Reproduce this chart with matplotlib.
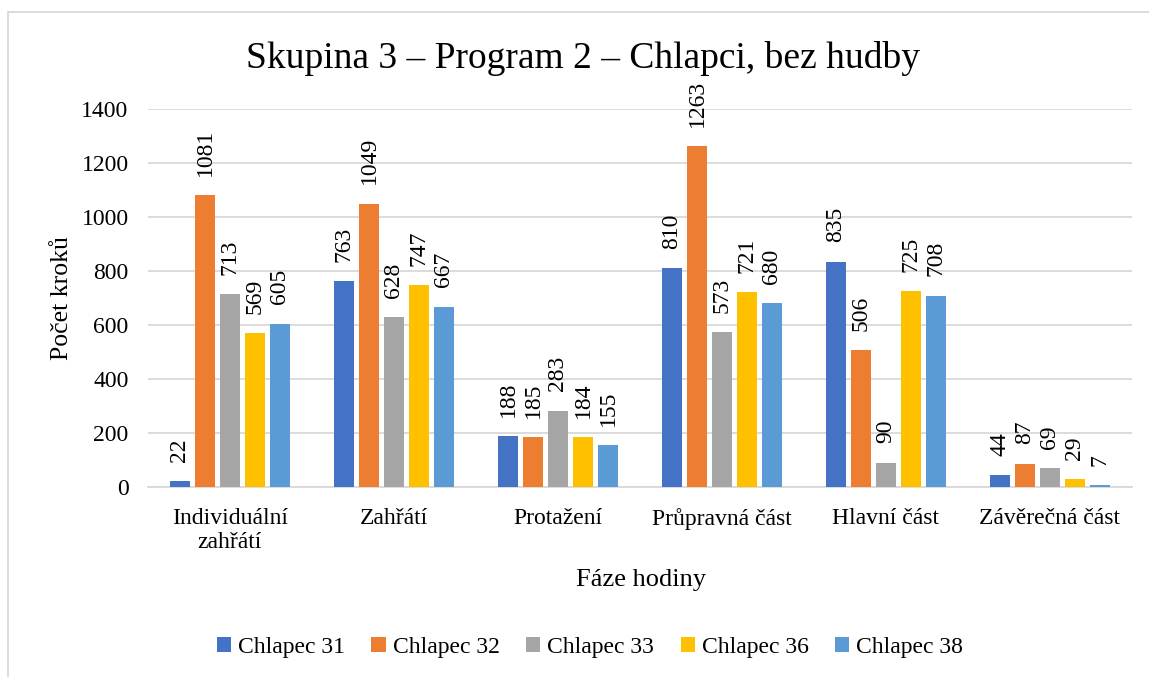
import numpy as np
import matplotlib.pyplot as plt
from matplotlib.patches import Rectangle

plt.rcParams['font.family'] = ['Liberation Serif', 'DejaVu Serif']

# data
categories = ["Individuální\nzahřátí", "Zahřátí", "Protažení",
              "Průpravná část", "Hlavní část", "Závěrečná část"]
series_names = ["Chlapec 31", "Chlapec 32", "Chlapec 33", "Chlapec 36", "Chlapec 38"]
chlapec_31 = [22, 763, 188, 810, 835, 44]
chlapec_32 = [1081, 1049, 185, 1263, 506, 87]
chlapec_33 = [713, 628, 283, 573, 90, 69]
chlapec_36 = [569, 747, 184, 721, 725, 29]
chlapec_38 = [605, 667, 155, 680, 708, 7]
colors = ["#4472C4", "#ED7D31", "#A5A5A5", "#FFC000", "#5B9BD5"]

all_series = [chlapec_31, chlapec_32, chlapec_33, chlapec_36, chlapec_38]

fig = plt.figure(figsize=(11.49, 6.77), dpi=100)
ax = fig.add_axes([148/1149, 1 - 487/677, (1132-148)/1149, (487-109)/677])

x = np.arange(len(categories))
slot = 25/164
width = 20/164
for i, (vals, name, c) in enumerate(zip(all_series, series_names, colors)):
    pos = x + (i - 2) * slot
    bars = ax.bar(pos, vals, width=width, color=c, label=name, zorder=3)
    for b, v in zip(bars, vals):
        ax.annotate(str(v), (b.get_x() + b.get_width()/2, v), xytext=(0, 14),
                    textcoords="offset points", rotation=90, ha="center",
                    va="bottom", fontsize=17)

ax.set_xlim(-0.5, len(categories) - 0.5)
ax.set_ylim(0, 1400)
ax.set_yticks(range(0, 1401, 200))
ax.yaxis.grid(True, color="#D9D9D9", linewidth=1.3, zorder=0)
ax.set_xticks(x)
ax.set_xticklabels(categories, fontsize=17)
ax.tick_params(axis="both", length=0, labelsize=17)
ax.tick_params(axis="x", pad=15)
ax.tick_params(axis="y", pad=14)
for s in ["top", "right", "left"]:
    ax.spines[s].set_visible(False)
ax.spines["bottom"].set_color("#D9D9D9")
ax.spines["bottom"].set_linewidth(1.3)

ax.set_ylabel("Počet kroků", fontsize=18.5, labelpad=6)
fig.text(641/1149, 1 - 580/677, "Fáze hodiny", fontsize=19, ha="center", va="center")
fig.text(583/1149, 1 - 59/677, "Skupina 3 – Program 2 – Chlapci, bez hudby",
         fontsize=27, ha="center", va="center")

fig.legend(loc="center", bbox_to_anchor=(590/1149, 1 - 647/677), ncol=5,
           frameon=False, fontsize=17, handlelength=0.6, handleheight=0.6,
           handletextpad=0.3, columnspacing=1.12)

# chart border (left and top only visible)
fig.patches.append(Rectangle((8/1149, -0.1), 1.2, 1 - 12/677 + 0.1,
                             transform=fig.transFigure, fill=False,
                             edgecolor="#D9D9D9", linewidth=1.3))

fig.savefig("out.png", dpi=100)
